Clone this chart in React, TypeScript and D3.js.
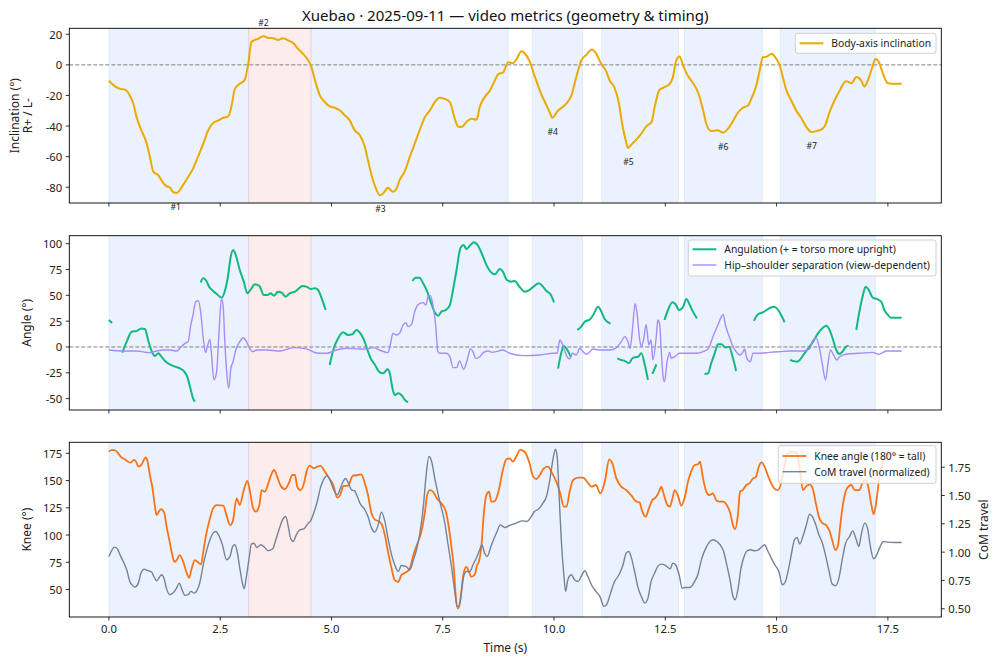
import React from 'react';
import * as d3 from 'd3';

type Pt = [number, number | null];

const TITLE = 'Xuebao · 2025-09-11 — video metrics (geometry & timing)';

// turns (shaded spans) and their labelled extremes
const turnStart = [0, 3.14, 4.54, 9.51, 11.07, 12.93, 15.08];
const turnEnd = [3.14, 4.54, 8.97, 10.64, 12.8, 14.68, 17.22];
const turnSide = ['L', 'R', 'L', 'L', 'L', 'L', 'L'];
const turnPeakT = [1.5, 3.47, 6.1, 9.97, 11.67, 13.8, 15.79];
const turnPeakV = [-84, 19, -85.3, -34.6, -54.3, -44.3, -43.9];

const inclination: Pt[] = [
  [0, -10.4], [0.13, -13.9], [0.25, -15.7], [0.36, -16.2], [0.47, -20], [0.55, -25.4], [0.62, -34], [0.73, -42.8],
  [0.85, -51.5], [0.92, -60], [1.0, -70], [1.11, -72.2], [1.18, -75.4], [1.29, -79.3], [1.37, -80.2], [1.44, -83],
  [1.52, -83.7], [1.59, -82], [1.67, -78.3], [1.78, -73.3], [1.89, -67.8], [2.0, -60.2], [2.12, -51.5], [2.23, -42.8],
  [2.34, -38], [2.46, -36.3], [2.57, -34.6], [2.68, -33.7], [2.75, -27.6], [2.83, -15.7], [2.94, -12.4], [3.05, -9.8],
  [3.13, 0.7], [3.2, 14.8], [3.28, 16.3], [3.35, 17], [3.47, 18.7], [3.58, 17.6], [3.69, 17.4], [3.8, 16.3],
  [3.91, 17.4], [4.03, 15.9], [4.14, 14.3], [4.25, 10.4], [4.36, 7.2], [4.48, 2.8], [4.55, -1.5], [4.63, -10.2],
  [4.74, -20], [4.85, -24.3], [4.96, -27.2], [5.07, -28], [5.19, -29.8], [5.3, -33], [5.41, -36.3], [5.52, -42.8],
  [5.64, -46], [5.75, -53.7], [5.82, -62.4], [5.9, -72.2], [5.97, -78.7], [6.09, -85.2], [6.16, -84.1], [6.27, -80.4],
  [6.38, -83], [6.46, -80.9], [6.53, -75.4], [6.65, -69.3], [6.76, -60.2], [6.87, -51.5], [6.98, -42.8], [7.1, -34.1],
  [7.21, -29.8], [7.32, -24.3], [7.43, -21.5], [7.54, -22.2], [7.66, -24.3], [7.77, -35.2], [7.84, -40.2], [7.92, -40.7],
  [8.03, -37.4], [8.14, -35.2], [8.26, -35.9], [8.33, -27.6], [8.44, -21.1], [8.56, -16.7], [8.67, -10.2], [8.74, -6.3],
  [8.86, -4.8], [8.97, 1.7], [9.08, 1.1], [9.16, 3.9], [9.27, 8.9], [9.34, 7.6], [9.45, 2.4], [9.56, -7],
  [9.71, -18.9], [9.83, -26.5], [9.9, -30.9], [9.96, -34.6], [10.09, -29.8], [10.26, -25.9], [10.39, -20], [10.5, -8],
  [10.61, 2.8], [10.73, 6.7], [10.85, 10], [10.95, 7.2], [11.06, 0.7], [11.17, -4.1], [11.25, -10.2], [11.36, -15],
  [11.46, -25.4], [11.53, -38.5], [11.61, -49.3], [11.66, -54.3], [11.74, -52], [11.85, -48.9], [11.96, -45], [12.07, -40.2],
  [12.19, -37.4], [12.26, -27.6], [12.37, -16.3], [12.48, -14.6], [12.6, -12.4], [12.67, -8], [12.75, 3.3], [12.82, 5.4],
  [12.9, -0.4], [12.99, -6.3], [13.08, -10.2], [13.2, -15.7], [13.27, -21.1], [13.35, -29.8], [13.42, -38.5], [13.53, -43.3],
  [13.66, -42.8], [13.8, -44.3], [13.91, -41.7], [14.02, -36.7], [14.13, -31.3], [14.24, -28], [14.36, -26.5], [14.43, -22.2],
  [14.53, -15], [14.62, -3.7], [14.69, 5], [14.78, 5.4], [14.88, 7.2], [14.98, 4.6], [15.07, -0.4], [15.14, -8],
  [15.22, -16.7], [15.33, -23.3], [15.44, -29.8], [15.55, -34.6], [15.67, -40.7], [15.78, -43.9], [15.89, -43.3], [16.0, -42.4],
  [16.08, -40.2], [16.19, -30.9], [16.3, -23.3], [16.41, -17.2], [16.56, -10.7], [16.68, -12], [16.79, -8], [16.9, -10.2],
  [16.97, -14.1], [17.05, -10.2], [17.15, -1.5], [17.22, 3.9], [17.3, 1.7], [17.39, -5.9], [17.5, -12], [17.65, -12.4],
  [17.81, -12.4],
];

// angulation has gaps where the pose was not usable (null)
const angulation: Pt[] = [
  [0, 26.1], [0.07, 23.2], [0.2, null],
  [0.3, -5.5], [0.4, 5.2], [0.51, 14.8], [0.62, 15.5], [0.73, 18], [0.81, 17.4], [0.88, 6.8], [0.96, -3.9],
  [1.03, -8.7], [1.11, -6.1], [1.18, -9.4], [1.26, -13.5], [1.37, -16.8], [1.48, -19], [1.59, -20.6], [1.68, -23.2],
  [1.76, -28.7], [1.83, -40], [1.89, -49.7], [1.93, -52.9], [2.0, null],
  [2.06, 62.6], [2.12, 66.5], [2.19, 63.9], [2.25, 58.4], [2.34, 54.2], [2.43, 51], [2.53, 47.7], [2.6, 53.5],
  [2.68, 69.7], [2.73, 85.8], [2.79, 93.9], [2.85, 89], [2.94, 74.5], [3.03, 63.2], [3.11, 51.9], [3.18, 55.2],
  [3.28, 60.6], [3.38, 59], [3.48, 50.3], [3.56, 50.3], [3.63, 51.9], [3.71, 49.7], [3.8, 53.5], [3.88, 52.6],
  [3.97, 48.7], [4.06, 51.9], [4.18, 53.5], [4.25, 56.1], [4.35, 59], [4.44, 58.4], [4.53, 56.1], [4.63, 56.8],
  [4.7, 55.2], [4.78, 47.1], [4.87, 35.8], [4.92, null],
  [4.96, -17.4], [5.04, -2.9], [5.15, 8.4], [5.26, 14.2], [5.37, 11.6], [5.47, 12.3], [5.56, 16.5], [5.65, 13.2],
  [5.73, 6.8], [5.8, -1.9], [5.88, -11], [5.97, -16.8], [6.07, -23.9], [6.16, -25.5], [6.26, -21.6], [6.31, -25.5],
  [6.37, -40], [6.42, -46.5], [6.5, -44.8], [6.57, -46.5], [6.65, -51.3], [6.72, -53.5], [6.77, null],
  [6.82, 63.9], [6.89, 67.1], [6.98, 67.1], [7.06, 61.6], [7.15, 53.5], [7.24, 42.3], [7.32, 33.5], [7.4, 30.3],
  [7.47, 34.2], [7.57, 35.8], [7.66, 40.6], [7.73, 55.2], [7.81, 74.5], [7.9, 96.1], [7.97, 98.7], [8.03, 94.8],
  [8.11, 98.1], [8.2, 101.3], [8.29, 98.1], [8.39, 89], [8.48, 79.4], [8.57, 72.9], [8.67, 70.3], [8.78, 75.5],
  [8.85, 72.9], [8.94, 64.8], [9.04, 63.2], [9.12, 63.9], [9.21, 59], [9.34, 53.5], [9.45, 55.2], [9.54, 58.4],
  [9.66, 61.6], [9.75, 58.4], [9.83, 54.2], [9.92, 51], [10.0, 43.2], [10.05, null],
  [10.09, -21], [10.16, -6], [10.22, 1], [10.3, -3], [10.38, -10], [10.45, null],
  [10.52, 16.5], [10.59, 18.7], [10.69, 24.5], [10.81, 26.8], [10.88, 31], [10.99, 39], [11.07, 33.5], [11.14, 26.8],
  [11.27, 22.6], [11.35, null],
  [11.42, -11], [11.51, -12.6], [11.59, -13.5], [11.68, -15.8], [11.77, -10.5], [11.89, -9.4], [11.96, -6.1], [12.04, -17.4],
  [12.11, -31.9], [12.16, null],
  [12.21, -26.1], [12.3, -16.8], [12.4, null],
  [12.48, 26.1], [12.56, 35.8], [12.66, 43.2], [12.73, 41.3], [12.81, 35.8], [12.9, 39], [12.97, 46.5], [13.05, 40.6],
  [13.12, 34.2], [13.21, 27.7], [13.3, null],
  [13.38, -26.1], [13.46, -25.5], [13.53, -15.8], [13.61, -6.1], [13.68, 2.6], [13.76, 2.6], [13.85, -0.6], [13.93, 0.3],
  [14.02, -11], [14.09, -23.2], [14.3, null],
  [14.49, 25.2], [14.58, 31.6], [14.69, 33.5], [14.8, 36.5], [14.92, 39], [14.99, 38], [15.08, 32.6], [15.18, 23.9],
  [15.24, null],
  [15.3, -12.6], [15.37, -13.5], [15.45, -14.2], [15.52, -12.6], [15.59, -8.4], [15.71, -1.3], [15.82, 5.2], [15.93, 13.2],
  [16.04, 18.7], [16.12, 20.6], [16.19, 16.5], [16.27, 6.8], [16.34, -2.9], [16.42, -6.8], [16.49, -3.9], [16.56, 0.3],
  [16.62, 1.3], [16.7, null],
  [16.79, 16.5], [16.86, 34.2], [16.94, 50.3], [17.0, 58.4], [17.07, 55.2], [17.16, 47.7], [17.25, 46.5], [17.35, 43.9],
  [17.42, 35.8], [17.5, 31], [17.57, 28.4], [17.68, 28.4], [17.81, 28.4],
];

const separation: Pt[] = [
  [0, -2.9], [0.32, -3.9], [0.62, -3.9], [0.92, -5.5], [1.07, -3.9], [1.22, -2.9], [1.37, -2.9], [1.52, -3.9],
  [1.61, -0.6], [1.71, 3.5], [1.78, 5.2], [1.84, 21.3], [1.89, 31], [1.95, 43.9], [2.01, 44.8], [2.06, 34.2],
  [2.12, 8.4], [2.17, -5.5], [2.22, 1.9], [2.27, 7.4], [2.3, -4.5], [2.36, -31.9], [2.42, -23.9], [2.47, 11.6],
  [2.53, 47.1], [2.57, 37.4], [2.6, 8.4], [2.64, -20.6], [2.69, -40], [2.74, -20.6], [2.79, -14.2], [2.85, -2.9],
  [2.94, 5.2], [3.02, 9], [3.09, 5.2], [3.17, -1.9], [3.23, -4.5], [3.32, -2.9], [3.54, -2.9], [3.84, -3.9],
  [4.14, -0.6], [4.44, -1.9], [4.7, -6.1], [4.89, -6.1], [5.11, -2.9], [5.34, -1.3], [5.64, -1.9], [5.79, -1.9],
  [5.93, -0.6], [6.08, -2.9], [6.27, -5.5], [6.32, 1.9], [6.38, 13.2], [6.46, 11.6], [6.53, 13.2], [6.61, 21.3],
  [6.67, 23.5], [6.72, 19.7], [6.8, 21.9], [6.87, 34.2], [6.95, 41.3], [7.06, 42.9], [7.12, 40.6], [7.17, 48.7],
  [7.22, 49.7], [7.28, 40.6], [7.34, 21.3], [7.39, -4.5], [7.43, -6.1], [7.58, -6.1], [7.66, -9.4], [7.73, -20],
  [7.81, -20], [7.88, -13.5], [7.97, -21.6], [8.05, -12.6], [8.12, -1.9], [8.18, -4.5], [8.24, -11], [8.33, -9.4],
  [8.42, -5.2], [8.52, -3.9], [8.61, -5.2], [8.7, -4.5], [8.85, -2.9], [9.0, -6.1], [9.3, -8.4], [9.68, -7.7],
  [9.98, -6.1], [10.07, -6.1], [10.13, 6.8], [10.19, 2.6], [10.24, -3.9], [10.29, -9.4], [10.35, -11.6], [10.41, -6.1],
  [10.5, -7.7], [10.58, -1.3], [10.65, -4.5], [10.73, -7.1], [10.88, -1.9], [11.03, -2.9], [11.25, -2.9], [11.4, -0.6],
  [11.51, 5.2], [11.59, 10], [11.66, 5.2], [11.71, -1.3], [11.77, 21.3], [11.82, 42], [11.86, 34.2], [11.92, 8.4],
  [11.96, 0.3], [12.01, 6.8], [12.07, 21.9], [12.13, 1.9], [12.18, 6.8], [12.22, -12.6], [12.3, 11.6], [12.33, 26.1],
  [12.37, 22.9], [12.41, -4.5], [12.45, -28.7], [12.48, -33.5], [12.54, -14.2], [12.6, -5.2], [12.63, -11], [12.71, -9.4],
  [12.82, -6.1], [12.97, -6.1], [13.2, -6.1], [13.35, -4.5], [13.46, -1.9], [13.57, 10], [13.68, 21.3], [13.76, 29.4],
  [13.8, 31.6], [13.85, 21.3], [13.95, 8.4], [14.02, 0.3], [14.09, -4.5], [14.17, -7.7], [14.25, -4.5], [14.28, -1.9],
  [14.33, -11], [14.41, -14.2], [14.47, -6.1], [14.62, -6.1], [14.84, -5.2], [15.07, -4.5], [15.3, -3.9], [15.59, -3.9],
  [15.74, -1.9], [15.82, 6.8], [15.89, 8.4], [15.97, -2.9], [16.03, -17.4], [16.1, -31.9], [16.15, -17.4], [16.21, -2.9],
  [16.28, -7.7], [16.35, -12.6], [16.42, -9.4], [16.56, -7.1], [16.86, -6.1], [17.16, -5.2], [17.3, -7.1], [17.46, -3.9],
  [17.81, -3.9],
];

const knee: Pt[] = [
  [0, 176.5], [0.06, 178], [0.13, 178], [0.21, 175], [0.28, 171.3], [0.36, 169.5], [0.43, 167.3], [0.49, 166.4],
  [0.56, 168.9], [0.61, 167.3], [0.66, 162.7], [0.73, 164.3], [0.79, 169.5], [0.83, 171.3], [0.87, 167.3], [0.92, 155.1],
  [0.98, 142.8], [1.03, 127.5], [1.07, 118.3], [1.12, 121.4], [1.17, 123.8], [1.24, 120.8], [1.29, 109.1], [1.35, 96.9],
  [1.41, 84.6], [1.47, 75.4], [1.52, 77], [1.59, 81.6], [1.67, 75.4], [1.74, 66.2], [1.8, 60.7], [1.86, 69.3],
  [1.93, 77], [1.99, 75.4], [2.07, 73], [2.12, 84.6], [2.19, 101.5], [2.27, 115.3], [2.34, 124.4], [2.42, 127.5],
  [2.57, 126.9], [2.64, 118.3], [2.72, 109.1], [2.78, 112.2], [2.87, 133.6], [2.94, 127.5], [3.02, 139.8], [3.11, 149.6],
  [3.17, 139.8], [3.23, 126], [3.3, 121.4], [3.38, 127.5], [3.43, 141.3], [3.5, 139.8], [3.58, 147.4], [3.63, 153.6],
  [3.71, 159.7], [3.78, 153.6], [3.85, 145.9], [3.95, 142.2], [4.04, 147.4], [4.12, 155.1], [4.18, 155.1], [4.23, 144.4],
  [4.3, 141.3], [4.38, 147.4], [4.44, 158.2], [4.51, 163.7], [4.6, 161.2], [4.68, 162.7], [4.75, 163.4], [4.85, 158.2],
  [4.95, 152], [5.04, 145.9], [5.13, 134.3], [5.19, 136.4], [5.27, 145], [5.37, 145.3], [5.48, 154.5], [5.6, 155.1],
  [5.67, 155.7], [5.75, 147.4], [5.82, 136.7], [5.9, 119.9], [5.97, 114.3], [6.05, 112.8], [6.12, 110.7], [6.2, 99.9],
  [6.27, 84.6], [6.35, 69.3], [6.42, 58.6], [6.5, 57], [6.57, 63.2], [6.69, 66.2], [6.76, 69.3], [6.84, 81.6],
  [6.93, 92.3], [7.02, 103], [7.1, 121.4], [7.15, 136.7], [7.21, 141.3], [7.28, 139.8], [7.37, 133.6], [7.47, 129],
  [7.57, 121.4], [7.64, 106.1], [7.69, 90.7], [7.75, 69.3], [7.79, 44.8], [7.84, 32.5], [7.9, 41.7], [7.96, 63.2],
  [8.03, 70.8], [8.09, 66.2], [8.14, 61.6], [8.22, 63.8], [8.27, 72.4], [8.31, 75.4], [8.37, 90.7], [8.42, 118.3],
  [8.48, 136.7], [8.54, 139.8], [8.59, 130.6], [8.67, 131.2], [8.76, 141.3], [8.85, 159.7], [8.93, 169.5], [9.0, 170.4],
  [9.08, 167.3], [9.15, 171.9], [9.24, 178.1], [9.34, 176.5], [9.44, 167.3], [9.53, 153.6], [9.6, 151.4], [9.68, 155.1],
  [9.77, 161.2], [9.86, 162.7], [9.96, 156.6], [10.05, 149], [10.14, 138.2], [10.22, 126], [10.28, 126], [10.35, 139.8],
  [10.43, 150.5], [10.54, 152.6], [10.65, 152.6], [10.77, 147.4], [10.84, 144.4], [10.94, 145.9], [11.04, 138.2], [11.14, 149],
  [11.24, 169.5], [11.31, 165.8], [11.4, 152], [11.51, 144.4], [11.62, 141.3], [11.74, 136.1], [11.85, 130.6], [11.92, 130],
  [11.98, 122], [12.06, 116.8], [12.13, 124.4], [12.21, 132.1], [12.28, 134.3], [12.36, 139.8], [12.41, 144.4], [12.46, 138.2],
  [12.52, 130], [12.6, 126], [12.66, 133.6], [12.71, 141.3], [12.78, 136.7], [12.86, 126.9], [12.93, 133.6], [13.01, 149],
  [13.08, 158.2], [13.16, 164.3], [13.23, 164.9], [13.28, 167.3], [13.34, 153.6], [13.42, 139.8], [13.49, 136.7], [13.57, 138.2],
  [13.64, 132.1], [13.72, 130.6], [13.81, 130.6], [13.88, 127.5], [13.96, 119.9], [14.02, 109.1], [14.07, 105.5], [14.13, 118.3],
  [14.18, 139.8], [14.24, 141.3], [14.32, 145.9], [14.39, 147.4], [14.47, 152], [14.54, 153.6], [14.6, 162.7], [14.66, 166.7],
  [14.73, 162.7], [14.8, 155.1], [14.88, 147.4], [14.96, 142.2], [15.03, 141.3], [15.11, 149], [15.18, 164.3], [15.25, 175],
  [15.35, 176], [15.45, 175.5], [15.52, 161.2], [15.59, 141.3], [15.66, 144.4], [15.74, 146.5], [15.81, 142.8], [15.89, 127.5],
  [15.96, 115.3], [16.04, 110.7], [16.11, 109.1], [16.19, 103.6], [16.25, 95.3], [16.32, 86.1], [16.38, 90.7], [16.43, 109.1],
  [16.5, 130.6], [16.58, 142.8], [16.68, 145.9], [16.75, 141.3], [16.86, 141.3], [16.94, 149], [17.0, 150.5], [17.05, 145.9],
  [17.13, 127.5], [17.18, 119], [17.24, 130.6], [17.3, 150.5], [17.39, 167.3], [17.46, 173.5], [17.61, 174], [17.81, 173.5],
];

const comTravel: Pt[] = [
  [0, 0.962], [0.06, 1.012], [0.12, 1.044], [0.19, 1.029], [0.25, 0.976], [0.32, 0.918], [0.4, 0.844], [0.47, 0.741],
  [0.53, 0.706], [0.58, 0.691], [0.66, 0.726], [0.72, 0.815], [0.79, 0.85], [0.86, 0.838], [0.96, 0.824], [1.01, 0.785],
  [1.07, 0.747], [1.13, 0.776], [1.18, 0.8], [1.24, 0.765], [1.29, 0.682], [1.37, 0.624], [1.44, 0.638], [1.52, 0.682],
  [1.58, 0.726], [1.63, 0.682], [1.71, 0.618], [1.78, 0.624], [1.84, 0.653], [1.92, 0.638], [1.98, 0.662], [2.04, 0.726],
  [2.12, 0.888], [2.19, 1.006], [2.27, 1.109], [2.34, 1.168], [2.4, 1.182], [2.48, 1.138], [2.55, 1.065], [2.64, 0.932],
  [2.72, 0.962], [2.78, 1.05], [2.83, 1.065], [2.88, 1.006], [2.94, 0.859], [3.0, 0.726], [3.04, 0.676], [3.09, 0.785],
  [3.15, 0.947], [3.2, 1.071], [3.26, 1.079], [3.32, 1.041], [3.41, 1.065], [3.5, 1.041], [3.58, 1.012], [3.68, 1.029],
  [3.75, 1.109], [3.82, 1.197], [3.9, 1.285], [3.97, 1.315], [4.03, 1.226], [4.08, 1.124], [4.14, 1.094], [4.21, 1.153],
  [4.29, 1.197], [4.38, 1.206], [4.48, 1.256], [4.53, 1.276], [4.6, 1.344], [4.68, 1.447], [4.75, 1.565], [4.83, 1.647],
  [4.9, 1.676], [4.98, 1.624], [5.05, 1.55], [5.13, 1.506], [5.2, 1.565], [5.26, 1.624], [5.32, 1.65], [5.38, 1.609],
  [5.45, 1.55], [5.52, 1.541], [5.58, 1.491], [5.64, 1.432], [5.75, 1.374], [5.82, 1.315], [5.9, 1.212], [5.97, 1.176],
  [6.05, 1.241], [6.12, 1.353], [6.2, 1.271], [6.27, 1.124], [6.35, 0.976], [6.42, 0.888], [6.5, 0.829], [6.57, 0.882],
  [6.67, 0.874], [6.76, 0.844], [6.84, 0.932], [6.91, 1.021], [6.98, 1.153], [7.06, 1.388], [7.12, 1.653], [7.19, 1.844],
  [7.25, 1.8], [7.32, 1.653], [7.4, 1.506], [7.47, 1.388], [7.54, 1.271], [7.62, 1.065], [7.69, 0.888], [7.77, 0.653],
  [7.82, 0.521], [7.87, 0.521], [7.92, 0.653], [7.97, 0.785], [8.03, 0.829], [8.11, 0.829], [8.18, 0.888], [8.27, 0.962],
  [8.33, 1.021], [8.38, 1.065], [8.44, 0.991], [8.5, 0.962], [8.57, 1.035], [8.64, 1.109], [8.72, 1.182], [8.79, 1.241],
  [8.89, 1.218], [9.0, 1.235], [9.15, 1.256], [9.29, 1.276], [9.39, 1.271], [9.49, 1.315], [9.56, 1.359], [9.66, 1.382],
  [9.75, 1.432], [9.83, 1.491], [9.9, 1.624], [9.98, 1.829], [10.03, 1.909], [10.07, 1.844], [10.11, 1.535], [10.16, 1.124],
  [10.22, 0.8], [10.26, 0.653], [10.31, 0.756], [10.39, 0.8], [10.46, 0.756], [10.54, 0.741], [10.61, 0.785], [10.69, 0.835],
  [10.76, 0.785], [10.84, 0.712], [10.94, 0.653], [11.03, 0.609], [11.12, 0.521], [11.18, 0.535], [11.27, 0.638], [11.36, 0.741],
  [11.46, 0.8], [11.55, 0.888], [11.62, 0.991], [11.68, 1.006], [11.74, 0.947], [11.81, 0.829], [11.89, 0.682], [11.96, 0.609],
  [12.04, 0.55], [12.11, 0.594], [12.18, 0.741], [12.26, 0.815], [12.33, 0.874], [12.41, 0.894], [12.48, 0.888], [12.56, 0.865],
  [12.61, 0.853], [12.67, 0.903], [12.73, 0.888], [12.81, 0.8], [12.88, 0.682], [12.96, 0.688], [13.05, 0.688], [13.16, 0.741],
  [13.23, 0.8], [13.31, 0.932], [13.41, 1.035], [13.49, 1.088], [13.57, 1.109], [13.66, 1.094], [13.73, 1.065], [13.81, 1.006],
  [13.88, 0.888], [13.96, 0.741], [14.02, 0.609], [14.07, 0.579], [14.13, 0.668], [14.2, 0.859], [14.27, 0.962], [14.34, 1.012],
  [14.42, 1.021], [14.5, 1.012], [14.58, 1.018], [14.65, 1.041], [14.73, 1.065], [14.8, 1.012], [14.88, 0.947], [14.96, 0.888],
  [15.05, 0.829], [15.13, 0.712], [15.2, 0.741], [15.28, 0.874], [15.35, 1.021], [15.4, 1.109], [15.46, 1.129], [15.52, 1.071],
  [15.59, 1.138], [15.67, 1.241], [15.74, 1.335], [15.8, 1.315], [15.88, 1.241], [15.95, 1.153], [16.03, 1.079], [16.1, 0.971],
  [16.18, 0.829], [16.25, 0.718], [16.32, 0.703], [16.4, 0.771], [16.48, 0.947], [16.55, 1.079], [16.64, 1.138], [16.71, 1.188],
  [16.79, 1.109], [16.85, 1.05], [16.9, 1.153], [16.98, 1.256], [17.05, 1.197], [17.1, 1.065], [17.18, 0.941], [17.25, 0.976],
  [17.31, 1.035], [17.4, 1.094], [17.5, 1.088], [17.65, 1.085], [17.81, 1.085],
];

const xTicks = [0, 2.5, 5, 7.5, 10, 12.5, 15, 17.5];
const inclTicks = [20, 0, -20, -40, -60, -80];
const angleTicks = [100, 75, 50, 25, 0, -25, -50];
const kneeTicks = [175, 150, 125, 100, 75, 50];
const comTicks = [1.75, 1.5, 1.25, 1.0, 0.75, 0.5];

const FONT = '"Noto Sans", "DejaVu Sans", sans-serif';
const X0 = 69.3;
const X1 = 941.3;
const C = {
  incl: '#e9aa02',
  ang: '#10b981',
  sep: '#a78bfa',
  knee: '#f97316',
  com: '#74829a',
  spanL: '#3b82f6',
  spanR: '#ef4444',
};

const x = d3.scaleLinear().domain([-0.89, 18.7]).range([X0, X1]);
const y1 = d3.scaleLinear().domain([-90.3, 23.9]).range([203, 28.3]);
const y2 = d3.scaleLinear().domain([-61, 107.7]).range([410, 235.7]);
const y3 = d3.scaleLinear().domain([24.8, 185.1]).range([617, 442.3]);
const y3r = d3.scaleLinear().domain([0.427, 1.97]).range([617, 442.3]);

const fmtInt = (v: number) => String(v);
const fmt1 = d3.format('.1f');
const fmt2 = d3.format('.2f');

function pathOf(data: Pt[], ys: d3.ScaleLinear<number, number>) {
  return d3.line<Pt>()
    .defined(d => d[1] !== null)
    .x(d => x(d[0]))
    .y(d => ys(d[1] as number))
    .curve(d3.curveMonotoneX)(data) || '';
}

const Spans = ({ ys }: { ys: d3.ScaleLinear<number, number> }) => {
  const [b, t] = ys.range();
  return (
    <g>
      {turnStart.map((s, i) => {
        const col = turnSide[i] === 'R' ? C.spanR : C.spanL;
        return (
          <rect key={i} x={x(s)} y={t} width={x(turnEnd[i]) - x(s)} height={b - t}
            fill={col} fillOpacity={0.1} stroke={col} strokeOpacity={0.1} strokeWidth={1} />
        );
      })}
    </g>
  );
};

const LeftAxis = ({ ys, ticks, fmt }: { ys: d3.ScaleLinear<number, number>; ticks: number[]; fmt: (v: number) => string }) => (
  <g fontFamily={FONT} fontSize={11.3} fill="#222">
    {ticks.map(v => (
      <g key={v}>
        <line x1={X0 - 3.5} x2={X0} y1={ys(v)} y2={ys(v)} stroke="#000" strokeWidth={0.8} />
        <text x={X0 - 7} y={ys(v)} textAnchor="end" dominantBaseline="central">{fmt(v)}</text>
      </g>
    ))}
  </g>
);

const RightAxis = ({ ys, ticks, fmt }: { ys: d3.ScaleLinear<number, number>; ticks: number[]; fmt: (v: number) => string }) => (
  <g fontFamily={FONT} fontSize={11.3} fill="#222">
    {ticks.map(v => (
      <g key={v}>
        <line x1={X1} x2={X1 + 3.5} y1={ys(v)} y2={ys(v)} stroke="#000" strokeWidth={0.8} />
        <text x={X1 + 7} y={ys(v)} dominantBaseline="central">{fmt(v)}</text>
      </g>
    ))}
  </g>
);

const BottomTicks = ({ ys, labels }: { ys: d3.ScaleLinear<number, number>; labels: boolean }) => {
  const b = ys.range()[0];
  return (
    <g fontFamily={FONT} fontSize={11.3} fill="#222">
      {xTicks.map(v => (
        <g key={v}>
          <line x1={x(v)} x2={x(v)} y1={b} y2={b + 3.5} stroke="#000" strokeWidth={0.8} />
          {labels && <text x={x(v)} y={b + 16} textAnchor="middle">{fmt1(v)}</text>}
        </g>
      ))}
    </g>
  );
};

const Frame = ({ ys }: { ys: d3.ScaleLinear<number, number> }) => {
  const [b, t] = ys.range();
  return <rect x={X0} y={t} width={X1 - X0} height={b - t} fill="none" stroke="#000" strokeWidth={0.9} />;
};

const ZeroLine = ({ ys }: { ys: d3.ScaleLinear<number, number> }) => (
  <line x1={X0} x2={X1} y1={ys(0)} y2={ys(0)} stroke="#808080" strokeWidth={1} strokeDasharray="4,2" />
);

type LegendItem = { label: string; color: string; width: number };
const Legend = ({ x0, y0, w, h, items, rowY }: { x0: number; y0: number; w: number; h: number; items: LegendItem[]; rowY: number[] }) => (
  <g fontFamily={FONT} fontSize={10.3} fill="#222">
    <rect x={x0} y={y0} width={w} height={h} rx={2.5} fill="#fff" fillOpacity={0.8} stroke="#d0d0d0" strokeWidth={1} />
    {items.map((it, i) => (
      <g key={it.label}>
        <line x1={x0 + 4.3} x2={x0 + 28} y1={rowY[i]} y2={rowY[i]} stroke={it.color} strokeWidth={it.width} />
        <text x={x0 + 36} y={rowY[i]} dominantBaseline="central">{it.label}</text>
      </g>
    ))}
  </g>
);

const Clip = ({ id, ys }: { id: string; ys: d3.ScaleLinear<number, number> }) => {
  const [b, t] = ys.range();
  return (
    <clipPath id={id}>
      <rect x={X0} y={t} width={X1 - X0} height={b - t} />
    </clipPath>
  );
};

const YLabel = ({ cx, cy, lines }: { cx: number; cy: number; lines: string[] }) => (
  <text transform={`translate(${cx},${cy}) rotate(-90)`} fontFamily={FONT} fontSize={12} fill="#222" textAnchor="middle">
    {lines.map((l, i) => (
      <tspan key={i} x={0} dy={i === 0 ? (lines.length === 1 ? 4 : -2) : 13}>{l}</tspan>
    ))}
  </text>
);

export default function App() {
  const mid = (ys: d3.ScaleLinear<number, number>) => (ys.range()[0] + ys.range()[1]) / 2;
  return (
    <svg width={1000} height={664} viewBox="0 0 1000 664"
      style={{ position: 'absolute', left: 0, top: 0, background: '#fff' }}>
      <defs>
        <Clip id="c1" ys={y1} />
        <Clip id="c2" ys={y2} />
        <Clip id="c3" ys={y3} />
      </defs>
      <rect width={1000} height={664} fill="#fff" />

      <text x={(X0 + X1) / 2} y={20.5} textAnchor="middle" fontFamily={FONT} fontSize={15} fill="#111">{TITLE}</text>

      {/* panel 1: body-axis inclination */}
      <Spans ys={y1} />
      <ZeroLine ys={y1} />
      <path d={pathOf(inclination, y1)} fill="none" stroke={C.incl} strokeWidth={2} clipPath="url(#c1)" />
      <g fontFamily={FONT} fontSize={8.6} fill="#222" textAnchor="middle">
        {turnPeakT.map((t, i) => (
          <text key={i} x={x(t)} y={y1(turnPeakV[i]) + (turnPeakV[i] < 0 ? 14 : -13)} dominantBaseline="central">#{i + 1}</text>
        ))}
      </g>
      <Frame ys={y1} />
      <LeftAxis ys={y1} ticks={inclTicks} fmt={fmtInt} />
      <BottomTicks ys={y1} labels={false} />
      <YLabel cx={21} cy={mid(y1)} lines={['Inclination (°)', 'R+ / L-']} />
      <Legend x0={795.3} y0={33.3} w={140.7} h={20} rowY={[43.3]}
        items={[{ label: 'Body-axis inclination', color: C.incl, width: 2 }]} />

      {/* panel 2: angulation & hip-shoulder separation */}
      <Spans ys={y2} />
      <ZeroLine ys={y2} />
      <g clipPath="url(#c2)" fill="none">
        <path d={pathOf(angulation, y2)} stroke={C.ang} strokeWidth={2} />
        <path d={pathOf(separation, y2)} stroke={C.sep} strokeWidth={1.4} />
      </g>
      <Frame ys={y2} />
      <LeftAxis ys={y2} ticks={angleTicks} fmt={fmtInt} />
      <BottomTicks ys={y2} labels={false} />
      <YLabel cx={27} cy={mid(y2)} lines={['Angle (°)']} />
      <Legend x0={688.3} y0={240} w={247.7} h={36} rowY={[249.3, 265]}
        items={[
          { label: 'Angulation (+ = torso more upright)', color: C.ang, width: 2 },
          { label: 'Hip–shoulder separation (view-dependent)', color: C.sep, width: 1.4 },
        ]} />

      {/* panel 3: knee angle & CoM travel */}
      <Spans ys={y3} />
      <g clipPath="url(#c3)" fill="none">
        <path d={pathOf(knee, y3)} stroke={C.knee} strokeWidth={1.8} />
        <path d={pathOf(comTravel, y3r)} stroke={C.com} strokeWidth={1.4} />
      </g>
      <Frame ys={y3} />
      <LeftAxis ys={y3} ticks={kneeTicks} fmt={fmtInt} />
      <RightAxis ys={y3r} ticks={comTicks} fmt={fmt2} />
      <BottomTicks ys={y3} labels={true} />
      <YLabel cx={27} cy={mid(y3)} lines={['Knee (°)']} />
      <YLabel cx={984} cy={mid(y3)} lines={['CoM travel']} />
      <Legend x0={778.3} y0={445.7} w={157.7} h={37.6} rowY={[456, 471.7]}
        items={[
          { label: 'Knee angle (180° = tall)', color: C.knee, width: 1.8 },
          { label: 'CoM travel (normalized)', color: C.com, width: 1.4 },
        ]} />

      <text x={(X0 + X1) / 2} y={652} textAnchor="middle" fontFamily={FONT} fontSize={12} fill="#222">Time (s)</text>
    </svg>
  );
}
